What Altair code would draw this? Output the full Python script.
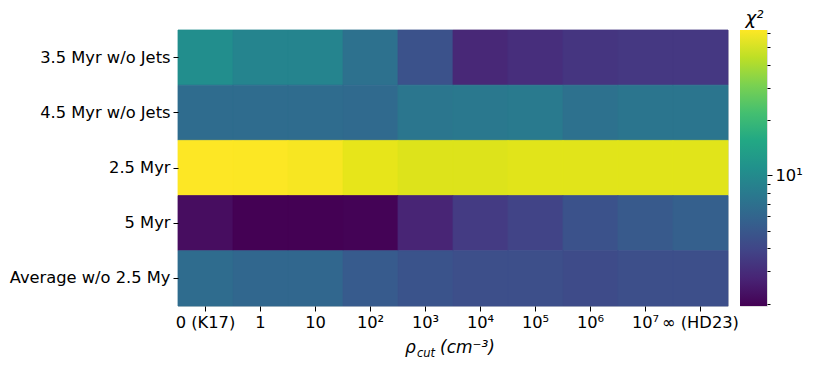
import altair as alt
import pandas as pd

rows = ["3.5 Myr w/o Jets", "4.5 Myr w/o Jets", "2.5 Myr", "5 Myr", "Average w/o 2.5 My"]
cols = ["0 (K17)", "1", "10", "10²", "10³", "10⁴", "10⁵", "10⁶", "10⁷", "∞ (HD23)"]

chi2_35_nojets = [10.6, 9.2, 9.2, 7.0, 4.6, 2.84, 3.05, 3.27, 3.38, 3.38]
chi2_45_nojets = [6.5, 6.5, 6.5, 6.3, 7.5, 7.8, 8.0, 7.0, 7.4, 7.4]
chi2_25 = [62.0, 61.5, 59.9, 54.8, 52.1, 52.1, 53.0, 53.0, 53.0, 53.0]
chi2_5 = [2.15, 1.94, 1.94, 1.97, 2.74, 3.5, 3.88, 4.6, 5.1, 5.5]
chi2_avg = [6.5, 6.1, 6.1, 5.2, 4.7, 4.4, 4.4, 4.2, 4.4, 4.4]

vmin, vmax = 1.94, 62.0
cbar_ticks = [2, 3, 4, 5, 6, 7, 8, 9, 10, 20, 30, 40, 50, 60]
viridis_stops = ["#440154", "#482475", "#414487", "#355f8d", "#2a788e", "#21918c",
                 "#22a884", "#44bf70", "#7ad151", "#bddf26", "#fde725"]

series = [chi2_35_nojets, chi2_45_nojets, chi2_25, chi2_5, chi2_avg]
records = []
for r, vals in zip(rows, series):
    for c, v in zip(cols, vals):
        records.append({"row": r, "col": c, "chi2": v})
df = pd.DataFrame(records)

FONT = "DejaVu Sans"
FS = 16.3
W, H = 550, 276

cscale = alt.Scale(type="log", scheme="viridis", domain=[vmin, vmax])
heat = alt.Chart(df).mark_rect(strokeWidth=0.8).encode(
    x=alt.X("col:N", sort=cols, scale=alt.Scale(paddingInner=0, paddingOuter=0),
            axis=alt.Axis(title=None, labelAngle=0, labelFontSize=FS, tickSize=5,
                          labelPadding=3, domain=False, grid=False, labelColor="black",
                          tickColor="black", labelFont=FONT)),
    y=alt.Y("row:N", sort=rows, scale=alt.Scale(paddingInner=0, paddingOuter=0),
            axis=alt.Axis(title=None, labelFontSize=FS, tickSize=5, labelPadding=3,
                          domain=False, grid=False, labelColor="black", tickColor="black",
                          labelFont=FONT)),
    color=alt.Color("chi2:Q", scale=cscale, legend=None),
    stroke=alt.Stroke("chi2:Q", scale=cscale, legend=None),
)

one = pd.DataFrame({"k": [0]})
t_rho = alt.Chart(one).mark_text(text="ρ", font=FONT, fontSize=17, fontStyle="italic",
                                 align="left", baseline="alphabetic", color="black").encode(
    x=alt.value(227), y=alt.value(323))
t_cut = alt.Chart(one).mark_text(text="cut", font=FONT, fontSize=11.5, fontStyle="italic",
                                 align="left", baseline="alphabetic", color="black").encode(
    x=alt.value(239), y=alt.value(327))
t_unit = alt.Chart(one).mark_text(text="(cm⁻³)", font=FONT, fontSize=17, fontStyle="italic",
                                  align="left", baseline="alphabetic", color="black").encode(
    x=alt.value(262), y=alt.value(323))

left = alt.layer(heat, t_rho, t_cut, t_unit).properties(width=W, height=H)

cb_df = pd.DataFrame({"lo": [vmin], "hi": [vmax]})
grad = alt.Gradient(gradient="linear",
                    stops=[alt.GradientStop(color=c, offset=i / (len(viridis_stops) - 1))
                           for i, c in enumerate(viridis_stops)],
                    x1=0, y1=1, x2=0, y2=0)
colorbar = alt.Chart(cb_df).mark_rect(fill=grad).encode(
    y=alt.Y("lo:Q", scale=alt.Scale(type="log", domain=[vmin, vmax], nice=False, zero=False),
            axis=alt.Axis(orient="right", values=cbar_ticks, grid=False, domain=False,
                          labelExpr="datum.value == 10 ? '10¹' : ''",
                          tickSize={"condition": {"test": "datum.value == 10", "value": 5},
                                    "value": 3},
                          labelFontSize=FS, labelFont=FONT, labelColor="black",
                          tickColor="black", labelPadding=3,
                          title="χ²", titleAngle=0, titleAlign="center",
                          titleBaseline="alphabetic", titleX=-13, titleY=-7,
                          titleFont=FONT, titleFontSize=18, titleFontStyle="italic",
                          titleFontWeight="normal", titleColor="black")),
    y2="hi:Q",
).properties(width=27, height=H)

chart = alt.hconcat(left, colorbar, spacing=12, bounds="flush").properties(
    padding={"left": 0, "top": 0, "right": 0, "bottom": 0}
).configure_view(stroke="black", strokeWidth=1).configure(background="white")

chart.save("out.html", embed_options={"renderer": "svg", "actions": False})
